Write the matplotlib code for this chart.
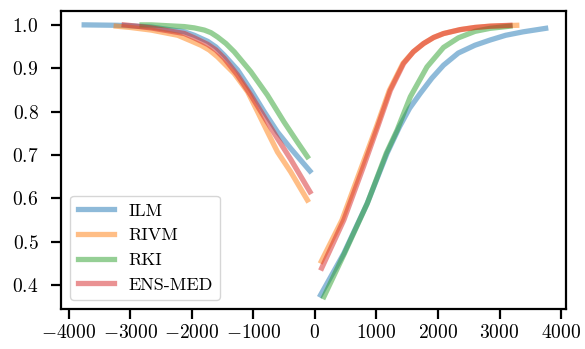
import matplotlib
matplotlib.use("Agg")
import matplotlib.pyplot as plt
from matplotlib import ticker

plt.rcParams["font.family"] = "serif"
plt.rcParams["font.serif"] = ["cmr10"]
plt.rcParams["mathtext.fontset"] = "cm"
plt.rcParams["axes.formatter.use_mathtext"] = True

labels = ["ILM", "RIVM", "RKI", "ENS-MED"]
colors = ["tab:blue", "tab:orange", "tab:green", "tab:red"]

# curves before the event (x < 0)
ilm_left_x = [-3750, -3200, -2900, -2662, -2122, -1960, -1743, -1609, -1474, -1257, -1042, -826, -609, -394, -81]
ilm_left_y = [1.0, 0.999, 0.997, 0.995, 0.984, 0.976, 0.962, 0.949, 0.930, 0.896, 0.850, 0.800, 0.753, 0.715, 0.663]
rivm_left_x = [-3230, -3000, -2662, -2229, -2014, -1852, -1717, -1581, -1447, -1312, -1095, -933, -771, -609, -394, -123]
rivm_left_y = [0.997, 0.994, 0.988, 0.976, 0.963, 0.953, 0.942, 0.926, 0.907, 0.888, 0.846, 0.800, 0.753, 0.707, 0.661, 0.596]
rki_left_x = [-2810, -2662, -2122, -1960, -1798, -1690, -1582, -1447, -1312, -1042, -772, -502, -286, -123]
rki_left_y = [1.0, 1.0, 0.996, 0.993, 0.988, 0.982, 0.972, 0.957, 0.938, 0.892, 0.838, 0.776, 0.730, 0.696]
ens_left_x = [-3100, -2900, -2662, -2122, -1960, -1743, -1609, -1474, -1257, -1042, -826, -609, -394, -81]
ens_left_y = [1.0, 0.997, 0.993, 0.980, 0.970, 0.955, 0.942, 0.923, 0.884, 0.838, 0.788, 0.738, 0.690, 0.615]

# curves after the event (x > 0)
ilm_right_x = [92, 470, 849, 1173, 1375, 1540, 1712, 1900, 2090, 2330, 2600, 2846, 3100, 3386, 3750]
ilm_right_y = [0.377, 0.473, 0.588, 0.704, 0.765, 0.808, 0.842, 0.877, 0.907, 0.935, 0.953, 0.965, 0.976, 0.984, 0.992]
rivm_right_x = [105, 440, 765, 1000, 1210, 1430, 1600, 1766, 1930, 2090, 2360, 2600, 2850, 3280]
rivm_right_y = [0.455, 0.55, 0.675, 0.765, 0.849, 0.911, 0.938, 0.957, 0.971, 0.980, 0.989, 0.994, 0.997, 0.999]
rki_right_x = [146, 480, 850, 1160, 1335, 1550, 1821, 2090, 2330, 2600, 2846, 3170]
rki_right_y = [0.373, 0.473, 0.588, 0.704, 0.757, 0.834, 0.903, 0.948, 0.970, 0.985, 0.992, 0.997]
ens_right_x = [110, 470, 794, 1020, 1226, 1442, 1600, 1766, 1930, 2090, 2360, 2600, 2850, 3170]
ens_right_y = [0.439, 0.55, 0.675, 0.765, 0.849, 0.911, 0.938, 0.957, 0.971, 0.980, 0.989, 0.994, 0.997, 0.999]

left = [(ilm_left_x, ilm_left_y), (rivm_left_x, rivm_left_y),
        (rki_left_x, rki_left_y), (ens_left_x, ens_left_y)]
right = [(ilm_right_x, ilm_right_y), (rivm_right_x, rivm_right_y),
         (rki_right_x, rki_right_y), (ens_right_x, ens_right_y)]

fig, ax = plt.subplots(figsize=(5.85, 3.49), dpi=100)

for lab, col, (lx, ly), (rx, ry) in zip(labels, colors, left, right):
    ax.plot(lx, ly, color=col, alpha=0.5, lw=3.8, label=lab, solid_joinstyle="round")
    ax.plot(rx, ry, color=col, alpha=0.5, lw=3.8, solid_joinstyle="round")

ax.set_xlim(-4120, 4085)
ax.set_ylim(0.345, 1.0316)
ax.set_xticks([-4000, -3000, -2000, -1000, 0, 1000, 2000, 3000, 4000])
ax.set_yticks([0.4, 0.5, 0.6, 0.7, 0.8, 0.9, 1.0])
ax.yaxis.set_major_formatter(ticker.FormatStrFormatter(r"$%.1f$"))
ax.xaxis.set_major_formatter(ticker.FuncFormatter(lambda v, p: r"$%d$" % v))

for s in ax.spines.values():
    s.set_linewidth(1.6)
ax.tick_params(length=7.5, width=1.6, labelsize=14)
ax.tick_params(axis="y", pad=9)

ax.legend(loc="lower left", fontsize=13)

fig.subplots_adjust(left=0.105, right=0.968, top=0.968, bottom=0.115)
fig.savefig("out.png")
